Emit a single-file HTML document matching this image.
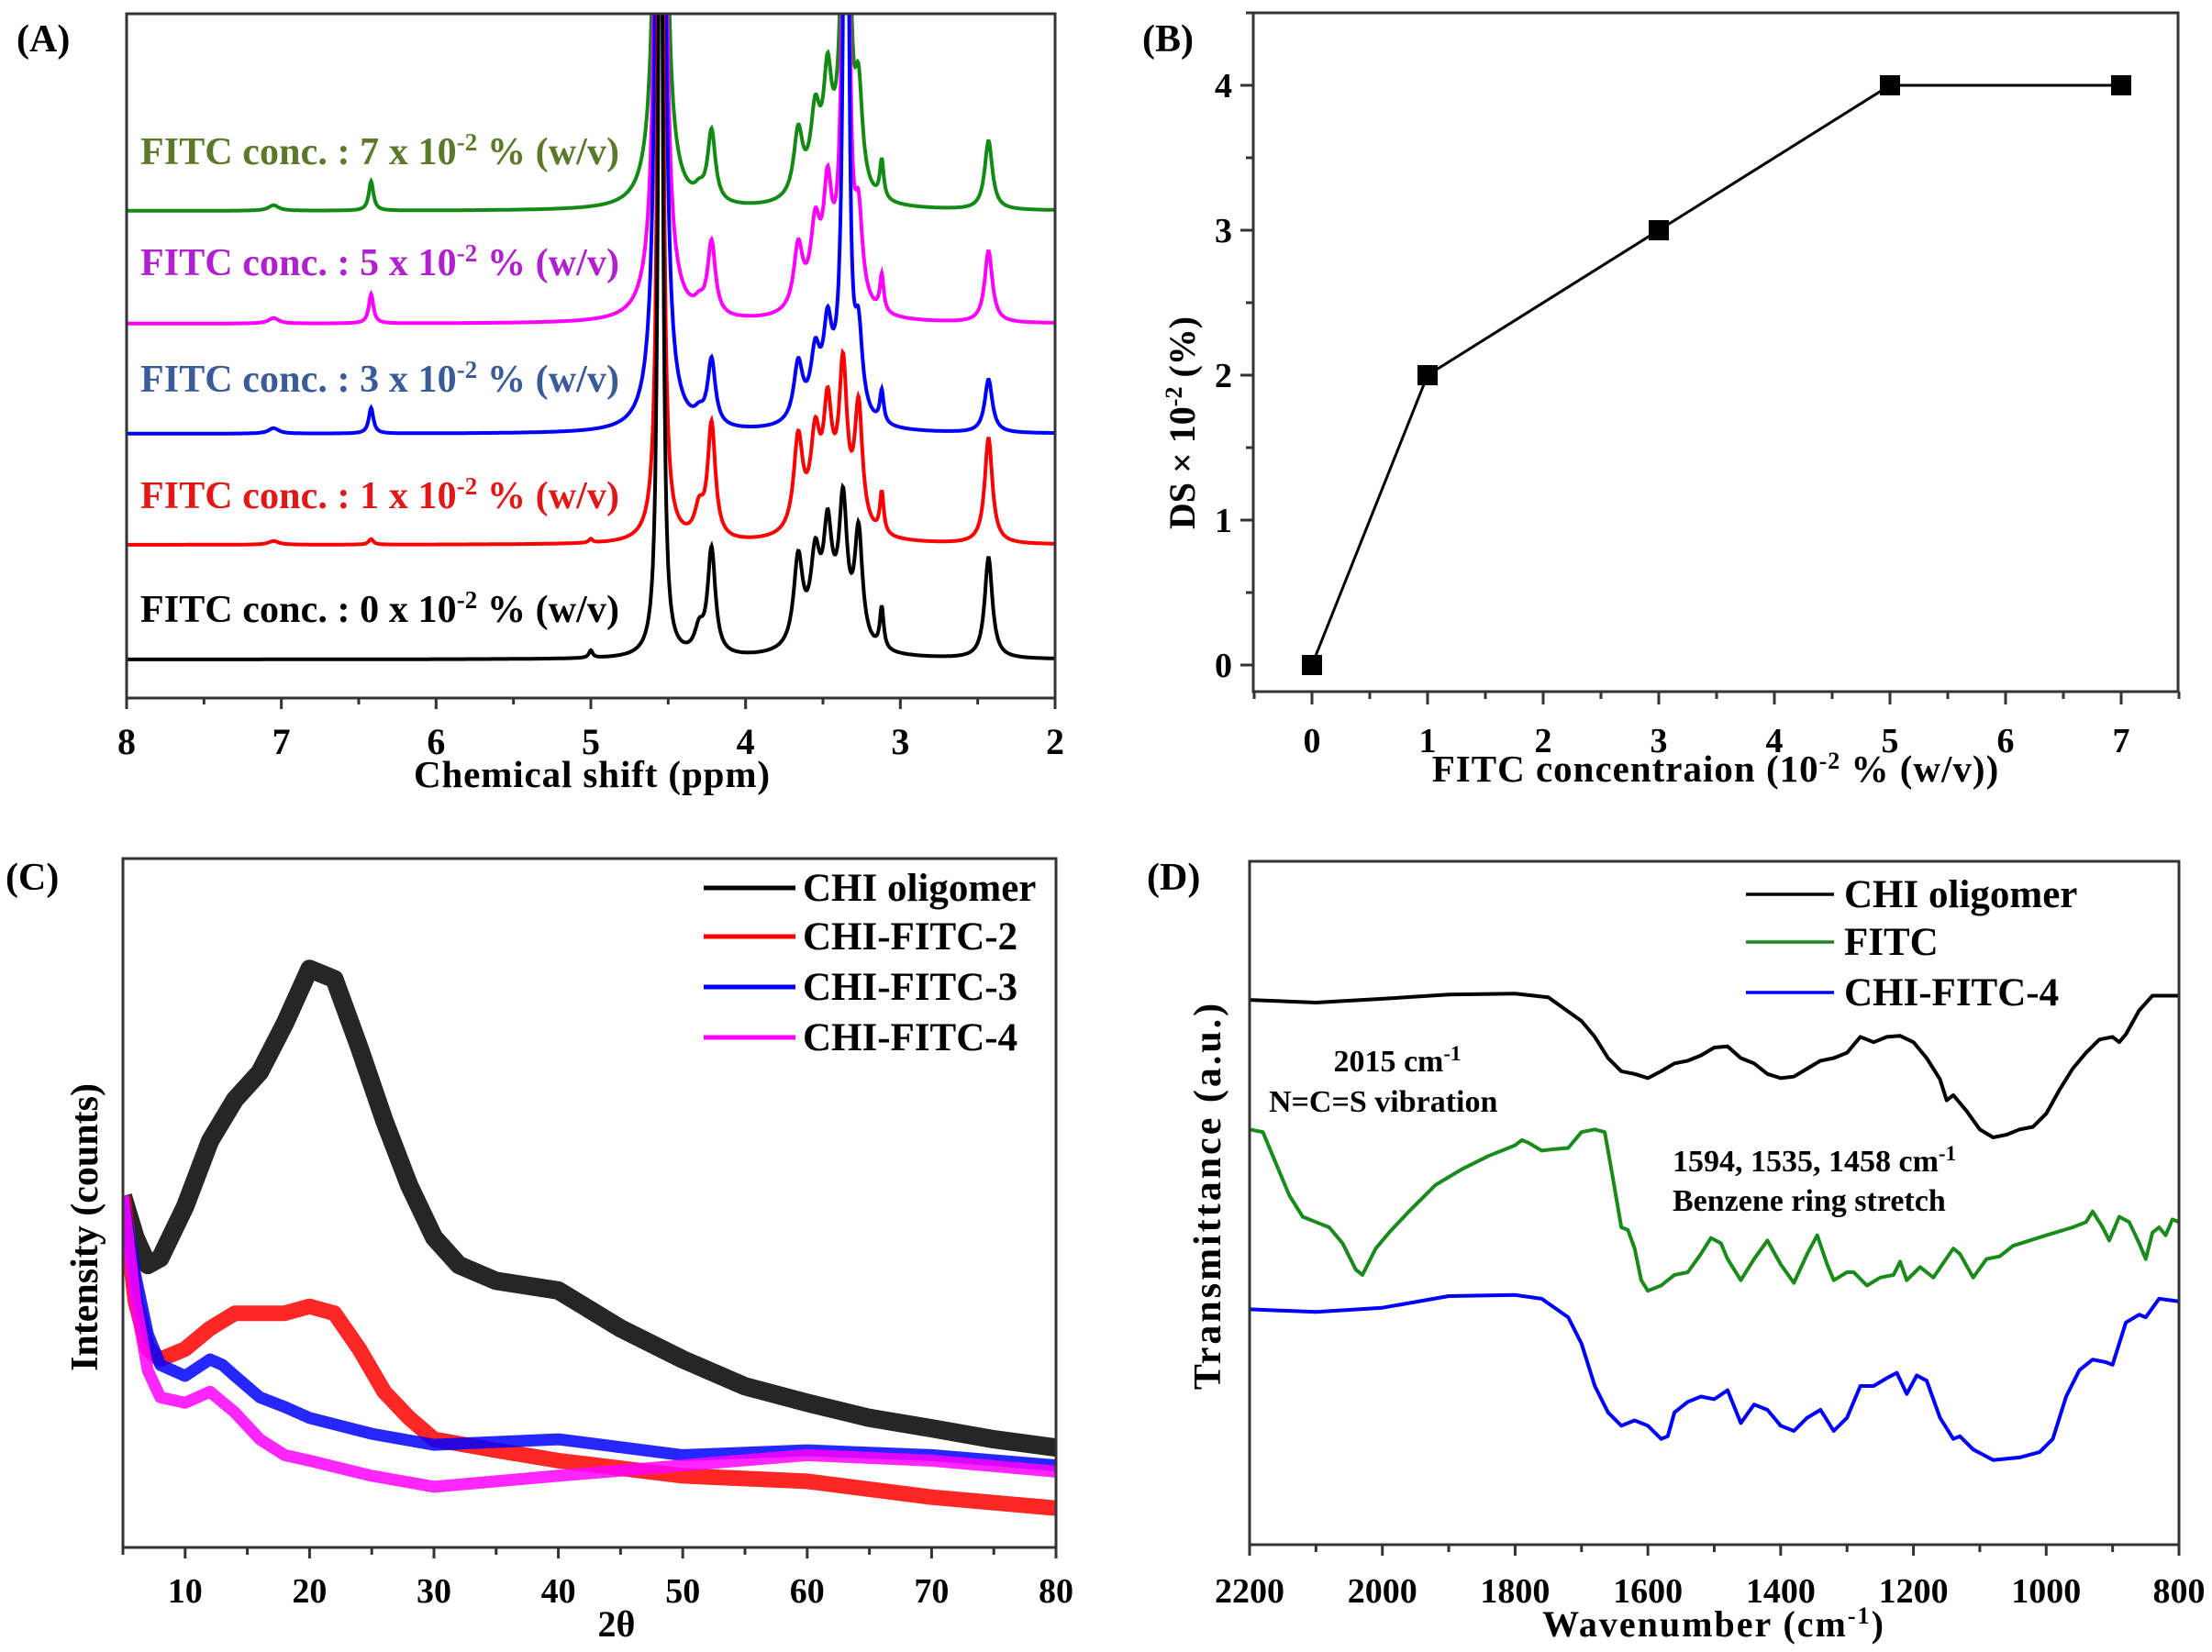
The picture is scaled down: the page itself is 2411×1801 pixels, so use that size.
<!DOCTYPE html>
<html><head><meta charset="utf-8">
<style>
html,body{margin:0;padding:0;background:#fff;}
svg{display:block;}
text{font-family:"Liberation Serif",serif;font-weight:bold;}
</style></head>
<body>
<svg id="fig" width="2411" height="1801" viewBox="0 0 2411 1801" xmlns="http://www.w3.org/2000/svg">
<defs>
<clipPath id="clipA"><rect x="138" y="15" width="1012" height="746"/></clipPath>
<clipPath id="clipC"><rect x="134" y="936" width="1017" height="751"/></clipPath>
<clipPath id="clipD"><rect x="1362" y="939" width="1013" height="745"/></clipPath>
</defs>
<g id="panelA"></g>
<g id="panelB"></g>
<g id="panelC"></g>
<g id="panelD"></g>
</svg>
<script>
// ===== Panel A data (NMR) =====
const nmrPeakPos = [7.05, 6.42, 5.0, 4.55, 4.30, 4.22, 3.66, 3.55, 3.47, 3.37, 3.27, 3.12, 2.43, 3.45, 3.35, 4.55];
const nmrPeakWidth = [0.04, 0.018, 0.015, 0.015, 0.035, 0.03, 0.035, 0.035, 0.03, 0.03, 0.03, 0.015, 0.03, 0.12, 0.012, 0.08];
const nmrBlack = [0, 0, 8, 1200, 25, 115, 95, 80, 90, 135, 120, 45, 110, 45, 0, 0];
const nmrRed = [4, 6, 4, 1400, 30, 125, 100, 85, 95, 155, 130, 45, 115, 45, 0, 10];
const nmrBlue = [6, 28, 0, 3000, 10, 72, 62, 60, 70, 75, 85, 35, 58, 35, 1400, 40];
const nmrMagenta = [6, 32, 0, 3000, 10, 80, 68, 75, 95, 85, 90, 40, 78, 40, 1400, 40];
const nmrGreen = [6, 32, 0, 3000, 10, 78, 70, 75, 95, 85, 105, 42, 75, 40, 1400, 40];
const nmrOffsets = [0, 125, 246, 366, 489];
const nmrXTicks = [8, 7, 6, 5, 4, 3, 2];

// ===== Panel B data =====
const dsConc = [0, 1, 3, 5, 7];
const dsValue = [0, 2, 3, 4, 4];
const dsXTicks = [0, 1, 2, 3, 4, 5, 6, 7];
const dsYTicks = [0, 1, 2, 3, 4];

// ===== Panel C data (XRD) =====
const xrdBlackX = [5,6,7,8,10,12,14,16,18,20,22,24,26,28,30,32,35,40,45,50,55,60,65,70,75,80];
const xrdBlackY = [51,45,41,42,49.5,59,65,69,76,84,82.5,72.6,62,52.6,45,41,38.7,37.3,31.8,27.3,23.4,21,18.8,17.3,15.7,14.5];
const xrdRedX = [5,6,7,8,10,12,14,16,18,20,22,24,26,28,30,35,40,50,60,70,80];
const xrdRedY = [51,35.7,28.8,27.3,28.8,31.8,34,34,34,35,34,28.8,22.6,18.8,15.7,14.1,12.6,10.4,9.6,7.3,5.7];
const xrdBlueX = [5,6,7,8,10,12,13,14,16,18,20,25,30,40,50,60,70,80];
const xrdBlueY = [51,39.5,31,26.5,24.9,27.3,26.5,24.9,21.8,20.4,18.8,16.5,14.9,15.7,13.4,14.1,13.4,11.9];
const xrdMagX = [5,6,7,8,10,12,14,16,18,20,25,30,35,40,50,60,70,80];
const xrdMagY = [51,35.7,25.7,21.8,21,22.6,19.6,15.7,13.4,12.6,10.4,8.8,9.6,10.4,11.9,13.4,12.6,11];
const xrdXTicks = [10,20,30,40,50,60,70,80];

// ===== Panel D data (FTIR) =====
const irBlackX = [2200,2100,2000,1900,1800,1750,1700,1680,1660,1640,1620,1600,1580,1560,1540,1520,1500,1480,1460,1440,1420,1400,1380,1360,1340,1320,1300,1280,1260,1240,1220,1200,1180,1160,1150,1140,1120,1100,1080,1060,1040,1020,1000,980,960,940,920,900,890,880,860,840,800];
const irBlackY = [103,102.5,103.2,104,104.2,103.5,99,96,92,89.5,89,88.2,89.5,91,91.5,92.5,94,94.2,92,91,89,88.2,88.5,90,91.5,92,93,96,95,96,96.2,95,92,88,84,85,82,78.5,77,77.5,78.5,79,81.5,86,90,93,95.5,96,95,96.5,101,103.8,103.8];
const irGreenX = [2200,2180,2160,2140,2120,2100,2080,2060,2040,2030,2010,1990,1960,1920,1880,1840,1800,1790,1780,1760,1740,1720,1700,1680,1665,1655,1640,1630,1620,1610,1600,1580,1560,1540,1520,1505,1490,1480,1460,1440,1420,1400,1380,1360,1345,1330,1320,1300,1290,1270,1250,1230,1220,1210,1190,1170,1140,1130,1110,1090,1070,1050,1000,960,940,930,915,905,890,875,860,850,840,830,820,810,800];
const irGreenY = [78.5,78,72,66,62,61,60,57,52,51,56,59,63,68,71,73.5,75.5,76.5,76,74.5,74.8,75,78,78.5,78,71,60,59.5,56,50,48,49,51,51.5,55,58,57,54,50,54,57.5,53,49.5,55,58.5,53,50,51.5,51.5,49,50.5,51,53.5,50,52.5,50.5,56,55,50.5,54,54.5,56.5,58.5,60,61,63,60,57.5,62,61,57,54,59,60,58.5,61.5,61];
const irBlueX = [2200,2100,2000,1900,1800,1760,1720,1700,1680,1660,1640,1620,1600,1580,1570,1560,1540,1520,1500,1480,1460,1440,1420,1400,1380,1360,1340,1320,1300,1280,1260,1240,1225,1210,1195,1180,1160,1140,1130,1110,1080,1040,1010,990,970,950,930,910,900,880,860,850,830,800];
const irBlueY = [44.5,44,44.8,47,47.2,46.5,43,38,30,25,22.5,23.5,22.5,20,20.5,25,27,28,27.5,29.2,23,26.5,25.5,22.5,21.5,24,25.5,21.5,24,30,30,31.5,32.5,28.5,32,31,24,20,20.5,18,16,16.5,17.5,20,28,33,35,34.5,34,42,43.5,43,46.5,46];
const irXTicks = [2200,2000,1800,1600,1400,1200,1000,800];

const NS = "http://www.w3.org/2000/svg";
function mk(parent, tag, attrs, txt) {
  const e = document.createElementNS(NS, tag);
  for (const k in attrs) e.setAttribute(k, attrs[k]);
  if (txt !== undefined) e.textContent = txt;
  parent.appendChild(e);
  return e;
}
function pathFrom(xs, ys, fx, fy) {
  let d = "";
  for (let i = 0; i < xs.length; i++) d += (i ? "L" : "M") + fx(xs[i]).toFixed(1) + " " + fy(ys[i]).toFixed(1);
  return d;
}

// ===================== Panel A =====================
(function () {
  const g = document.getElementById("panelA");
  const L = 138, R = 1150, T = 15, B = 761;
  const xA = p => L + (8 - p) * (R - L) / 6;
  const yA = (v, off) => 719 - off - v;
  const series = [nmrBlack, nmrRed, nmrBlue, nmrMagenta, nmrGreen];
  const colors = ["#000000", "#ff0000", "#0000ff", "#ff00ff", "#138a13"];
  const names = ["spectrum-0", "spectrum-1", "spectrum-3", "spectrum-5", "spectrum-7"];
  const clipG = mk(g, "g", {"clip-path": "url(#clipA)"});
  
  
  for (let s = series.length - 1; s >= 0; s--) {
    const hs = series[s];
    const xs = [], ys = [];
    for (let p = 8; p >= 2; p -= 0.004) {
      let v = 0;
      for (let k = 0; k < nmrPeakPos.length; k++) {
        const d = (p - nmrPeakPos[k]) / nmrPeakWidth[k];
        v += hs[k] / (1 + d * d);
      }
      xs.push(p); ys.push(v);
    }
    const pth = mk(clipG, "path", {d: pathFrom(xs, ys, xA, v => yA(v, nmrOffsets[s])), fill: "none", stroke: colors[s], "stroke-width": 4});
    
    
  }
  const box = mk(g, "rect", {x: L, y: T, width: R - L, height: B - T, fill: "none", stroke: "#333", "stroke-width": 3});
  
  
  for (let p = 8; p >= 2; p -= 0.5) {
    const major = Math.abs(p - Math.round(p)) < 1e-6;
    const t = mk(g, "line", {x1: xA(p), x2: xA(p), y1: B, y2: B + (major ? 12 : 7), stroke: "#333", "stroke-width": 3});
    
    
  }
  nmrXTicks.forEach(p => {
    const t = mk(g, "text", {x: xA(p), y: 822, "font-size": 40, "text-anchor": "middle"}, String(p));
    
    
  });
  const xt = mk(g, "text", {x: 645, y: 858, "font-size": 41, "text-anchor": "middle", textLength: 388}, "Chemical shift (ppm)");
  
  
  const lab = mk(g, "text", {x: 18, y: 56, "font-size": 42}, "(A)");
  
  
  const labels = [["0", 678, "#000000"], ["1", 554, "#e01818"], ["3", 427, "#3a5a9a"], ["5", 300, "#b020d0"], ["7", 179, "#5a7a2a"]];
  labels.forEach(l => {
    const t = mk(g, "text", {x: 153, y: l[1], "font-size": 42, fill: l[2], textLength: 522, lengthAdjust: "spacing"});
    
    
    t.appendChild(document.createTextNode("FITC conc. : " + l[0] + " x 10"));
    mk(t, "tspan", {dy: -15, "font-size": 27}, "-2");
    mk(t, "tspan", {dy: 15}, " % (w/v)");
  });
})();

// ===================== Panel B =====================
(function () {
  const g = document.getElementById("panelB");
  const L = 1366, R = 2374, T = 14, B = 754;
  const xB = v => 1430 + v * 126.0;
  const yB = v => 725 - v * 158;
  const box = mk(g, "rect", {x: L, y: T, width: R - L, height: B - T, fill: "none", stroke: "#333", "stroke-width": 3});
  
  
  for (let v = -0.5; v <= 7.5; v += 0.5) {
    const major = Number.isInteger(v);
    const t = mk(g, "line", {x1: xB(v), x2: xB(v), y1: B, y2: B + (major ? 14 : 8), stroke: "#333", "stroke-width": 3});
    
    
  }
  for (let v = 0; v <= 4.5; v += 0.5) {
    const major = Number.isInteger(v);
    const t = mk(g, "line", {x1: L, x2: L - (major ? 14 : 8), y1: yB(v), y2: yB(v), stroke: "#333", "stroke-width": 3});
    
    
  }
  dsXTicks.forEach(v => {
    const t = mk(g, "text", {x: xB(v), y: 820, "font-size": 38, "text-anchor": "middle"}, String(v));
    
    
  });
  dsYTicks.forEach(v => {
    const t = mk(g, "text", {x: 1343, y: yB(v) + 13, "font-size": 38, "text-anchor": "end"}, String(v));
    
    
  });
  const ln = mk(g, "path", {d: pathFrom(dsConc, dsValue, xB, yB), fill: "none", stroke: "#000", "stroke-width": 3});
  
  
  dsConc.forEach((c, i) => {
    const m = mk(g, "rect", {x: xB(c) - 11, y: yB(dsValue[i]) - 11, width: 22, height: 22, fill: "#000"});
    
    
  });
  const xt = mk(g, "text", {x: 1870, y: 852, "font-size": 41, "text-anchor": "middle", "letter-spacing": 1});
  
  
  xt.appendChild(document.createTextNode("FITC concentraion  (10"));
  mk(xt, "tspan", {dy: -14, "font-size": 26}, "-2");
  mk(xt, "tspan", {dy: 14}, " % (w/v))");
  const yt = mk(g, "text", {x: 0, y: 0, "font-size": 40, "text-anchor": "middle", transform: "translate(1302,461) rotate(-90)"});
  
  
  yt.appendChild(document.createTextNode("DS × 10"));
  mk(yt, "tspan", {dy: -14, "font-size": 26}, "-2");
  mk(yt, "tspan", {dy: 14}, "  (%)");
  const lab = mk(g, "text", {x: 1245, y: 56, "font-size": 42}, "(B)");
  
  
})();

// ===================== Panel C =====================
(function () {
  const g = document.getElementById("panelC");
  const L = 134, R = 1151, T = 936, B = 1687;
  const xC = v => L + (v - 5) * (R - L) / 75;
  const yC = v => B - v * (B - T) / 100;
  const cg = mk(g, "g", {"clip-path": "url(#clipC)"});
  
  
  const sets = [[xrdBlackX, xrdBlackY, "#000", 20, "chi-oligomer"], [xrdRedX, xrdRedY, "#ff0000", 17, "chi-fitc-2"], [xrdBlueX, xrdBlueY, "#0000ff", 13, "chi-fitc-3"], [xrdMagX, xrdMagY, "#ff00ff", 13, "chi-fitc-4"]];
  sets.forEach(s => {
    const p = mk(cg, "path", {d: pathFrom(s[0], s[1], xC, yC), fill: "none", stroke: s[2], "stroke-width": s[3], "stroke-linejoin": "round", "stroke-opacity": 0.85});
    
    
  });
  const box = mk(g, "rect", {x: L, y: T, width: R - L, height: B - T, fill: "none", stroke: "#333", "stroke-width": 3});
  
  
  for (let v = 5; v <= 80; v += 5) {
    const major = v % 10 === 0;
    const t = mk(g, "line", {x1: xC(v), x2: xC(v), y1: B, y2: B + (major ? 12 : 8), stroke: "#333", "stroke-width": 3});
    
    
  }
  xrdXTicks.forEach(v => {
    const t = mk(g, "text", {x: xC(v), y: 1747, "font-size": 38, "text-anchor": "middle"}, String(v));
    
    
  });
  const xt = mk(g, "text", {x: 672, y: 1784, "font-size": 40, "text-anchor": "middle"}, "2θ");
  
  
  const yt = mk(g, "text", {x: 0, y: 0, "font-size": 42, "text-anchor": "middle", transform: "translate(106,1338) rotate(-90)"}, "Intensity (counts)");
  
  
  const leg = [["CHI oligomer", "#000", 968], ["CHI-FITC-2", "#ff0000", 1021], ["CHI-FITC-3", "#0000ff", 1076], ["CHI-FITC-4", "#ff00ff", 1131]];
  leg.forEach(l => {
    const ln = mk(g, "line", {x1: 767, x2: 867, y1: l[2], y2: l[2], stroke: l[1], "stroke-width": 5});
    
    
    const t = mk(g, "text", {x: 875, y: l[2] + 14, "font-size": 43}, l[0]);
    
    
  });
  const lab = mk(g, "text", {x: 6, y: 970, "font-size": 42}, "(C)");
  
  
})();

// ===================== Panel D =====================
(function () {
  const g = document.getElementById("panelD");
  const L = 1362, R = 2375, T = 939, B = 1684;
  const xD = w => L + (2200 - w) * (R - L) / 1400;
  const yD = v => B - v * (B - T) / 129.2;
  const cg = mk(g, "g", {"clip-path": "url(#clipD)"});
  
  
  const sets = [[irBlackX, irBlackY, "#000", "chi-oligomer"], [irGreenX, irGreenY, "#1a8a1a", "fitc"], [irBlueX, irBlueY, "#0000ff", "chi-fitc-4"]];
  sets.forEach(s => {
    const p = mk(cg, "path", {d: pathFrom(s[0], s[1], xD, yD), fill: "none", stroke: s[2], "stroke-width": 4, "stroke-linejoin": "round"});
    
    
  });
  const box = mk(g, "rect", {x: L, y: T, width: R - L, height: B - T, fill: "none", stroke: "#333", "stroke-width": 3});
  
  
  for (let w = 2200; w >= 800; w -= 100) {
    const major = w % 200 === 0;
    const t = mk(g, "line", {x1: xD(w), x2: xD(w), y1: B, y2: B + (major ? 12 : 8), stroke: "#333", "stroke-width": 3});
    
    
  }
  irXTicks.forEach(w => {
    const t = mk(g, "text", {x: xD(w), y: 1747, "font-size": 38, "text-anchor": "middle"}, String(w));
    
    
  });
  const xt = mk(g, "text", {x: 1868, y: 1784, "font-size": 40, "text-anchor": "middle", "letter-spacing": 2});
  
  
  xt.appendChild(document.createTextNode("Wavenumber (cm"));
  mk(xt, "tspan", {dy: -14, "font-size": 26}, "-1");
  mk(xt, "tspan", {dy: 14}, ")");
  const yt = mk(g, "text", {x: 0, y: 0, "font-size": 42, "text-anchor": "middle", "letter-spacing": 3, transform: "translate(1330,1303) rotate(-90)"}, "Transmittance (a.u.)");
  
  
  const leg = [["CHI oligomer", "#000", 975], ["FITC", "#1a8a1a", 1027], ["CHI-FITC-4", "#0000ff", 1082]];
  leg.forEach(l => {
    const ln = mk(g, "line", {x1: 1903, x2: 1999, y1: l[2], y2: l[2], stroke: l[1], "stroke-width": 3.5});
    
    
    const t = mk(g, "text", {x: 2010, y: l[2] + 14, "font-size": 43}, l[0]);
    
    
  });
  const a1 = mk(g, "text", {x: 1523, y: 1168, "font-size": 34, "text-anchor": "middle"});
  
  
  a1.appendChild(document.createTextNode("2015 cm"));
  mk(a1, "tspan", {dy: -12, "font-size": 23}, "-1");
  const a2 = mk(g, "text", {x: 1383, y: 1212, "font-size": 34}, "N=C=S vibration");
  
  
  const a3 = mk(g, "text", {x: 1823, y: 1277, "font-size": 34});
  
  
  a3.appendChild(document.createTextNode("1594, 1535, 1458 cm"));
  mk(a3, "tspan", {dy: -12, "font-size": 23}, "-1");
  const a4 = mk(g, "text", {x: 1823, y: 1320, "font-size": 34}, "Benzene ring stretch");
  
  
  const lab = mk(g, "text", {x: 1250, y: 970, "font-size": 42}, "(D)");
  
  
})();
</script>
</body></html>
